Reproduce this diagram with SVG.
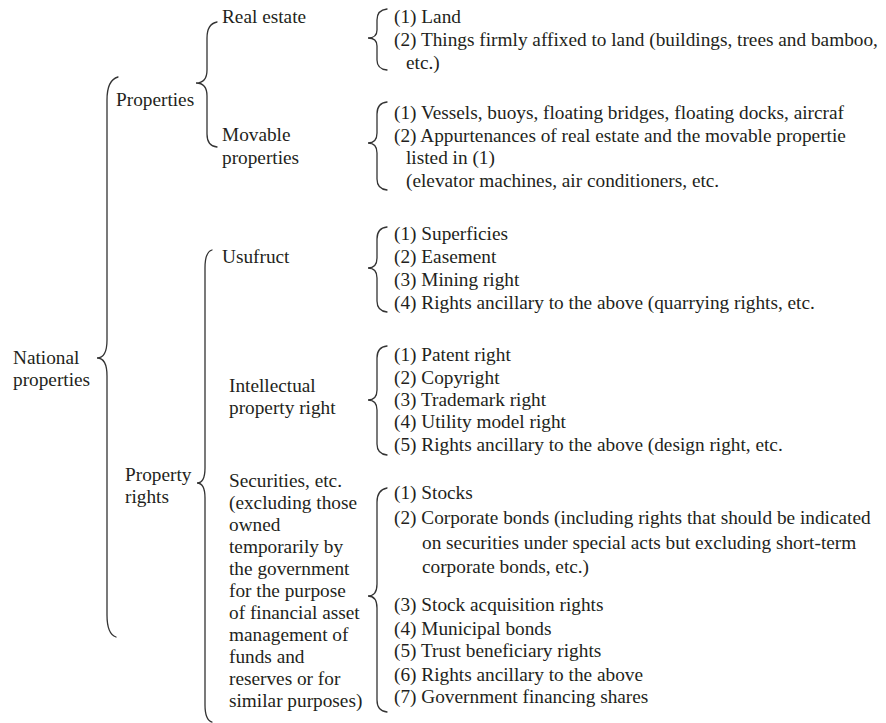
<svg xmlns="http://www.w3.org/2000/svg" width="886" height="723" viewBox="0 0 886 723" font-family="'Liberation Serif', 'Times New Roman', Times, 'Nimbus Roman', 'DejaVu Serif', serif">
<style>
text{font-family:'Liberation Serif','Times New Roman',Times,'Nimbus Roman','DejaVu Serif',serif;font-size:19.3px;fill:#231f20}
.br{fill:none;stroke:#333;stroke-width:1.3;stroke-linecap:round}
</style>
<rect width="886" height="723" fill="#fff"/>
<g id="connectors">
<path class="br" d="M118,77 Q107,80 107,100 L107,340 Q107,358 97,358 Q107,358 107,376 L107,615 Q107,634 116,637"/>
<path class="br" d="M217,22 Q207,24 207,38 L207,70 Q207,83 196,83 Q207,83 207,96 L207,134 Q207,146 217,147"/>
<path class="br" d="M212,250 Q205,252 205,268 L205,468 Q205,483 197,483 Q205,483 205,498 L205,705 Q205,720 212,722"/>
<path class="br" d="M387,9 Q377,10 377,20 L377,30 Q377,38 368,38 Q377,38 377,46 L377,60 Q377,69 387,70"/>
<path class="br" d="M387,102 Q377,103 377,114 L377,133 Q377,143 368,143 Q377,143 377,153 L377,179 Q377,189 387,190"/>
<path class="br" d="M387,227 Q377,228 377,239 L377,258 Q377,268 368,268 Q377,268 377,278 L377,301 Q377,311 387,312"/>
<path class="br" d="M387,346 Q377,347 377,358 L377,390 Q377,400 368,400 Q377,400 377,410 L377,444 Q377,454 387,455"/>
<path class="br" d="M387,488 Q377,490 377,502 L377,584 Q377,596 368,596 Q377,596 377,608 L377,700 Q377,711 387,712"/>
</g>
<g id="n-national"><text x="13" y="364">National</text><text x="13" y="386">properties</text></g>
<g id="n-properties"><text x="116" y="106">Properties</text></g>
<g id="n-property-rights"><text x="125" y="481">Property</text><text x="125" y="503">rights</text></g>
<g id="n-real-estate"><text x="222" y="23">Real estate</text></g>
<g id="n-movable"><text x="222" y="141">Movable</text><text x="222" y="164">properties</text></g>
<g id="n-usufruct"><text x="222" y="263">Usufruct</text></g>
<g id="n-ip"><text x="229" y="392">Intellectual</text><text x="229" y="414">property right</text></g>
<g id="n-securities">
<text x="229" y="487">Securities, etc.</text>
<text x="229" y="509">(excluding those</text>
<text x="229" y="531">owned</text>
<text x="229" y="553">temporarily by</text>
<text x="229" y="575">the government</text>
<text x="229" y="597">for the purpose</text>
<text x="229" y="619">of financial asset</text>
<text x="229" y="641">management of</text>
<text x="229" y="663">funds and</text>
<text x="229" y="685">reserves or for</text>
<text x="229" y="707">similar purposes)</text>
</g>
<g id="l-real-estate">
<text x="394" y="23">(1) Land</text>
<text x="394" y="46">(2) Things firmly affixed to land (buildings, trees and bamboo,</text>
<text x="406" y="69">etc.)</text>
</g>
<g id="l-movable">
<text x="394" y="119">(1) Vessels, buoys, floating bridges, floating docks, aircraf</text>
<text x="394" y="142">(2) Appurtenances of real estate and the movable propertie</text>
<text x="406" y="164">listed in (1)</text>
<text x="406" y="187">(elevator machines, air conditioners, etc.</text>
</g>
<g id="l-usufruct">
<text x="394" y="240">(1) Superficies</text>
<text x="394" y="263">(2) Easement</text>
<text x="394" y="286">(3) Mining right</text>
<text x="394" y="309">(4) Rights ancillary to the above (quarrying rights, etc.</text>
</g>
<g id="l-ip">
<text x="394" y="361">(1) Patent right</text>
<text x="394" y="384">(2) Copyright</text>
<text x="394" y="406">(3) Trademark right</text>
<text x="394" y="428">(4) Utility model right</text>
<text x="394" y="451">(5) Rights ancillary to the above (design right, etc.</text>
</g>
<g id="l-securities">
<text x="394" y="499">(1) Stocks</text>
<text x="394" y="524">(2) Corporate bonds (including rights that should be indicated</text>
<text x="422" y="549">on securities under special acts but excluding short-term</text>
<text x="422" y="573">corporate bonds, etc.)</text>
<text x="394" y="611">(3) Stock acquisition rights</text>
<text x="394" y="635">(4) Municipal bonds</text>
<text x="394" y="657">(5) Trust beneficiary rights</text>
<text x="394" y="681">(6) Rights ancillary to the above</text>
<text x="394" y="703">(7) Government financing shares</text>
</g>
</svg>
